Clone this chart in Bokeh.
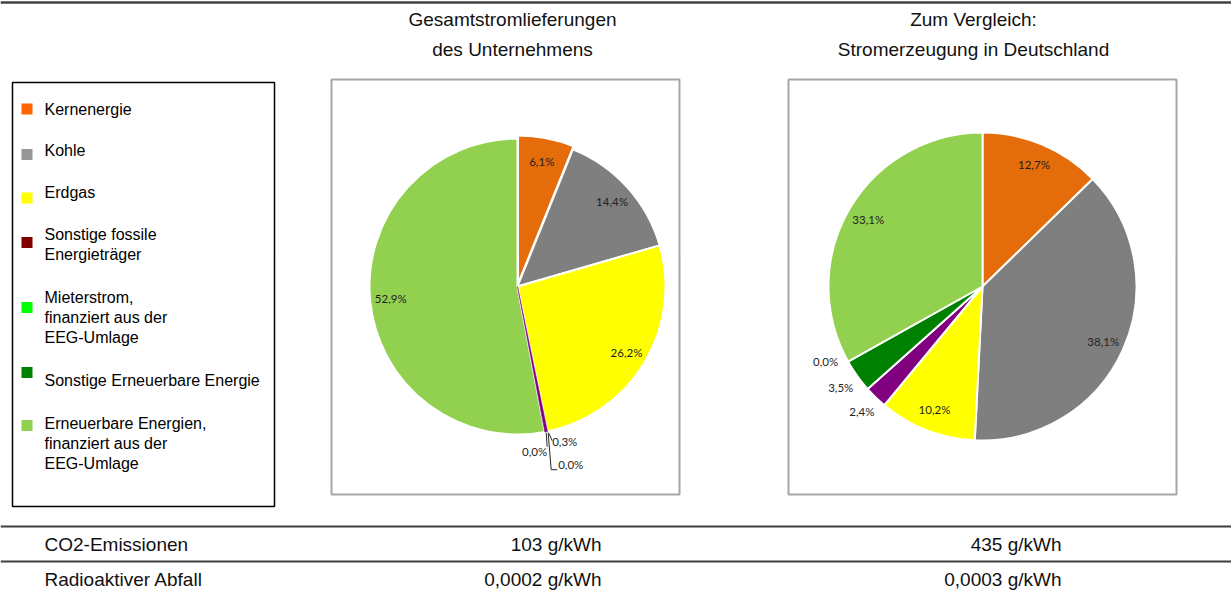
import math
from bokeh.plotting import figure
from bokeh.models import Range1d
from bokeh.core.properties import value
from bokeh.embed import file_html
from bokeh.resources import INLINE

# ---------------- data ----------------
categories = ["Kernenergie", "Kohle", "Erdgas", "Sonstige fossile Energieträger",
              "Mieterstrom, finanziert aus der EEG-Umlage",
              "Sonstige Erneuerbare Energie",
              "Erneuerbare Energien, finanziert aus der EEG-Umlage"]
legend_lines = [["Kernenergie"], ["Kohle"], ["Erdgas"],
                ["Sonstige fossile", "Energieträger"],
                ["Mieterstrom,", "finanziert aus der", "EEG-Umlage"],
                ["Sonstige Erneuerbare Energie"],
                ["Erneuerbare Energien,", "finanziert aus der", "EEG-Umlage"]]
unternehmen = [6.1, 14.4, 26.2, 0.3, 0.0, 0.0, 52.9]
deutschland = [12.7, 38.1, 10.2, 2.4, 0.0, 3.5, 33.1]
pie_order = [0, 1, 2, 3, 5, 4, 6]
slice_colors = ["#E46C0A", "#7F7F7F", "#FFFF00", "#800080", "#00FF00", "#008000", "#92D050"]
legend_colors = ["#FF6600", "#969696", "#FFFF00", "#800000", "#00FF00", "#008000", "#92D050"]
title_left = ["Gesamtstromlieferungen", "des Unternehmens"]
title_right = ["Zum Vergleich:", "Stromerzeugung in Deutschland"]
row_labels = ["CO2-Emissionen", "Radioaktiver Abfall"]
co2_values = [103, 435]
waste_values = [0.0002, 0.0003]

# ---------------- layout helpers ----------------
W, H = 1231, 591
FONT = value("Liberation Sans")
LABEL_FONT = value("Lato")


def Y(y_ref):
    return H - y_ref


def fmt_pct(v):
    return f"{v:.1f}".replace(".", ",") + "%"


p = figure(width=W, height=H, output_backend="svg", toolbar_location=None,
           x_range=Range1d(0, W), y_range=Range1d(0, H),
           x_axis_type=None, y_axis_type=None, min_border=0,
           outline_line_color=None, background_fill_color="white",
           border_fill_color="white")
p.grid.visible = False

# top rule
p.line(x=[0, W], y=[Y(2), Y(2)], line_color="#404040", line_width=2.5)

# titles
for tx, lines in ((512, title_left), (973, title_right)):
    for i, t in enumerate(lines):
        p.text(x=[tx], y=[Y(19 + 30 * i)], text=[t], text_font=FONT,
               text_font_size="19px", text_color="#111111",
               text_align="center", text_baseline="middle")

# chart frames
for x0, x1 in ((331, 679), (788, 1176)):
    p.quad(left=[x0], right=[x1], top=[Y(79)], bottom=[Y(494)],
           fill_color=None, line_color="#A6A6A6", line_width=2)

# legend box
p.quad(left=[12], right=[274], top=[Y(82)], bottom=[Y(506)],
       fill_color=None, line_color="#000000", line_width=1.5)
square_y = [108.5, 154, 197.5, 242, 307, 372, 425]
text_y0 = [109, 150, 192, 234, 297, 380, 423]
for i, lines in enumerate(legend_lines):
    p.quad(left=[21], right=[32], top=[Y(square_y[i] - 5.5)], bottom=[Y(square_y[i] + 5.5)],
           fill_color=legend_colors[i], line_color=None)
    for j, t in enumerate(lines):
        p.text(x=[44], y=[Y(text_y0[i] + 20 * j)], text=[t], text_font=FONT,
               text_font_size="16px", text_color="#000000",
               text_align="left", text_baseline="middle")


def draw_pie(values, cx, cy, r, explode, label_frac, small_frac, zero_shift=0.0,
             small_specs=None, leaders=None):
    total = sum(values)
    cum = 0.0
    anchor = None
    tiny = []
    for idx in pie_order:
        v = values[idx]
        a0 = cum / total * 360.0
        a1 = (cum + v) / total * 360.0
        cum += v
        mid_deg = (a0 + a1) / 2
        if v > 0:
            mid = math.radians(mid_deg)
            ex = explode.get(idx, 0)
            ox, oy = ex * math.sin(mid), ex * math.cos(mid)
            if v < 1:
                tiny.append((idx, a0, a1, ox, oy))
            else:
                p.wedge(x=[cx + ox], y=[Y(cy) + oy], radius=r,
                        start_angle=math.radians(90 - a0), end_angle=math.radians(90 - a1),
                        direction="clock", fill_color=slice_colors[idx],
                        line_color="white", line_width=2)
        else:
            mid_deg += zero_shift
        mid = math.radians(mid_deg)
        if small_specs is not None and v < 5:
            if anchor is None:
                anchor = (cx + r * math.sin(mid), cy - r * math.cos(mid))
            dx, dy, al = small_specs[idx]
            p.text(x=[anchor[0] + dx], y=[Y(anchor[1] + dy)], text=[fmt_pct(v)],
                   text_font=LABEL_FONT, text_font_size="11.5px", text_color="#1F1F1F",
                   text_align=al, text_baseline="middle")
            continue
        rr = r * (label_frac if v >= 5 else small_frac)
        p.text(x=[cx + rr * math.sin(mid)], y=[Y(cy - rr * math.cos(mid))],
               text=[fmt_pct(v)], text_font=LABEL_FONT, text_font_size="11.5px",
               text_color="#1F1F1F", text_align="center", text_baseline="middle")
    # very thin slices on top, without white border so they stay visible
    for idx, a0, a1, ox, oy in tiny:
        p.wedge(x=[cx + ox], y=[Y(cy) + oy], radius=r,
                start_angle=math.radians(90 - a0), end_angle=math.radians(90 - a1),
                direction="clock", fill_color=slice_colors[idx],
                line_color=slice_colors[idx], line_width=0.5)
    if leaders and anchor is not None:
        for seg in leaders:
            p.line(x=[anchor[0] + a for a, b in seg], y=[Y(anchor[1] + b) for a, b in seg],
                   line_color="#262626", line_width=1)


left_small = {3: (6, 10, "left"), 4: (1, 20, "right"), 5: (12, 33, "left")}
left_leaders = [[(0, 1), (1, 15)], [(2, 1), (5, 38), (11, 38)], [(3, 2), (6, 9)]]
draw_pie(unternehmen, 517, 286, 148, {0: 3}, 0.86, 1.14, 0.0, left_small, left_leaders)
draw_pie(deutschland, 982, 286, 154, {}, 0.86, 1.13, 3.5)

# bottom table
for yl in (526, 561):
    p.line(x=[0, W], y=[Y(yl), Y(yl)], line_color="#3F3F3F", line_width=2)
row_values = [[f"{v} g/kWh" for v in co2_values],
              [f"{v:.4f}".replace(".", ",") + " g/kWh" for v in waste_values]]
for i, lab in enumerate(row_labels):
    yy = Y(544 + 35 * i)
    p.text(x=[44], y=[yy], text=[lab], text_font=FONT, text_font_size="19px",
           text_color="#111111", text_align="left", text_baseline="middle")
    for xr, t in zip((601, 1061), row_values[i]):
        p.text(x=[xr], y=[yy], text=[t], text_font=FONT, text_font_size="19px",
               text_color="#111111", text_align="right", text_baseline="middle")

open("out.html", "w").write(file_html(p, INLINE))
